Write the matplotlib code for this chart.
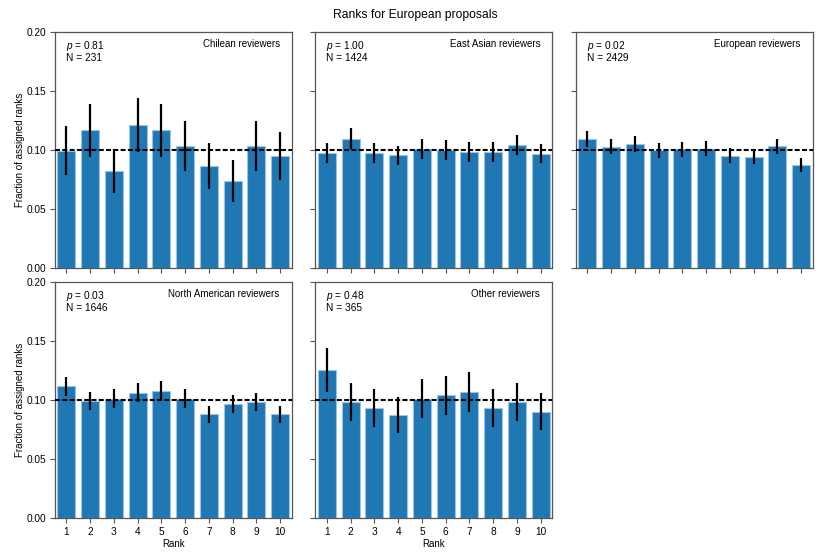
import matplotlib
matplotlib.use("Agg")
import matplotlib.pyplot as plt
import numpy as np

plt.rcParams['font.family'] = ['Liberation Sans', 'DejaVu Sans']
plt.rcParams['mathtext.fontset'] = 'custom'
plt.rcParams['mathtext.it'] = 'Liberation Sans:italic'
plt.rcParams['mathtext.rm'] = 'Liberation Sans'

title = "Ranks for European proposals"
ranks = [1, 2, 3, 4, 5, 6, 7, 8, 9, 10]
groups = ["Chilean reviewers", "East Asian reviewers", "European reviewers",
          "North American reviewers", "Other reviewers"]
p_values = ["0.81", "1.00", "0.02", "0.03", "0.48"]
n_values = [231, 1424, 2429, 1646, 365]

chilean = [0.0996, 0.1169, 0.0823, 0.1212, 0.1169, 0.1039, 0.0866, 0.0736, 0.1039, 0.0952]
chilean_err = [0.0208, 0.0225, 0.0189, 0.0229, 0.0225, 0.0212, 0.0194, 0.0178, 0.0212, 0.0203]

east_asian = [0.0976, 0.1096, 0.0976, 0.0955, 0.1011, 0.1004, 0.0983, 0.0983, 0.1046, 0.0969]
east_asian_err = [0.0083, 0.0088, 0.0083, 0.0082, 0.0084, 0.0084, 0.0083, 0.0083, 0.0086, 0.0082]

european = [0.1095, 0.1029, 0.1050, 0.1000, 0.1009, 0.1013, 0.0951, 0.0943, 0.1033, 0.0877]
european_err = [0.0067, 0.0065, 0.0066, 0.0064, 0.0064, 0.0065, 0.0063, 0.0062, 0.0065, 0.0060]

north_american = [0.1118, 0.0996, 0.1015, 0.1063, 0.1081, 0.1015, 0.0881, 0.0966, 0.0984, 0.0881]
north_american_err = [0.0082, 0.0078, 0.0079, 0.0080, 0.0081, 0.0079, 0.0073, 0.0077, 0.0077, 0.0073]

other = [0.1260, 0.0986, 0.0932, 0.0877, 0.1014, 0.1041, 0.1068, 0.0932, 0.0986, 0.0904]
other_err = [0.0186, 0.0164, 0.0160, 0.0155, 0.0167, 0.0169, 0.0171, 0.0160, 0.0164, 0.0157]

values = [chilean, east_asian, european, north_american, other]
errors = [chilean_err, east_asian_err, european_err, north_american_err, other_err]

bar_color = "#1f77b4"
spine_color = "#555555"
fs = 7

fig, axes = plt.subplots(2, 3, figsize=(8.3, 5.54), dpi=100, sharex=True, sharey=True)
fig.subplots_adjust(left=0.0657, right=0.9795, top=0.942, bottom=0.0644,
                    wspace=0.097, hspace=0.06)

for i, ax in enumerate(axes.flat):
    if i >= len(groups):
        ax.set_visible(False)
        continue
    ax.bar(ranks, values[i], width=0.75, color=bar_color,
           edgecolor="#9ec3e2", linewidth=0.8, zorder=2)
    ax.errorbar(ranks, values[i], yerr=errors[i], fmt='none', ecolor='black',
                elinewidth=1.6, capsize=0, zorder=3)
    ax.axhline(0.1, color='black', linestyle=(0, (2.4, 1.1)), linewidth=1.5, zorder=4)
    ax.set_xlim(0.5, 10.5)
    ax.set_ylim(0, 0.2)
    ax.set_xticks(ranks)
    ax.set_yticks([0.0, 0.05, 0.10, 0.15, 0.20])
    ax.set_yticklabels(["0.00", "0.05", "0.10", "0.15", "0.20"])
    ax.tick_params(labelsize=fs + 0.3, length=3.5, width=0.8, color=spine_color, pad=2.5)
    for s in ax.spines.values():
        s.set_color(spine_color)
        s.set_linewidth(0.9)
    ax.text(0.048, 0.972, "$p$ = " + p_values[i], transform=ax.transAxes,
            fontsize=fs + 0.3, va='top', ha='left')
    ax.text(0.048, 0.912, "N = " + str(n_values[i]), transform=ax.transAxes,
            fontsize=fs + 0.3, va='top', ha='left')
    ax.text(0.948, 0.972, groups[i], transform=ax.transAxes,
            fontsize=fs, va='top', ha='right')
    if i % 3 == 0:
        ax.set_ylabel("Fraction of assigned ranks", fontsize=fs, labelpad=1)
    if i >= 3:
        ax.set_xlabel("Rank", fontsize=fs, labelpad=2)
        ax.tick_params(labelbottom=True)

fig.suptitle(title, fontsize=8.7, y=0.983)
fig.savefig("out.png", dpi=100)
